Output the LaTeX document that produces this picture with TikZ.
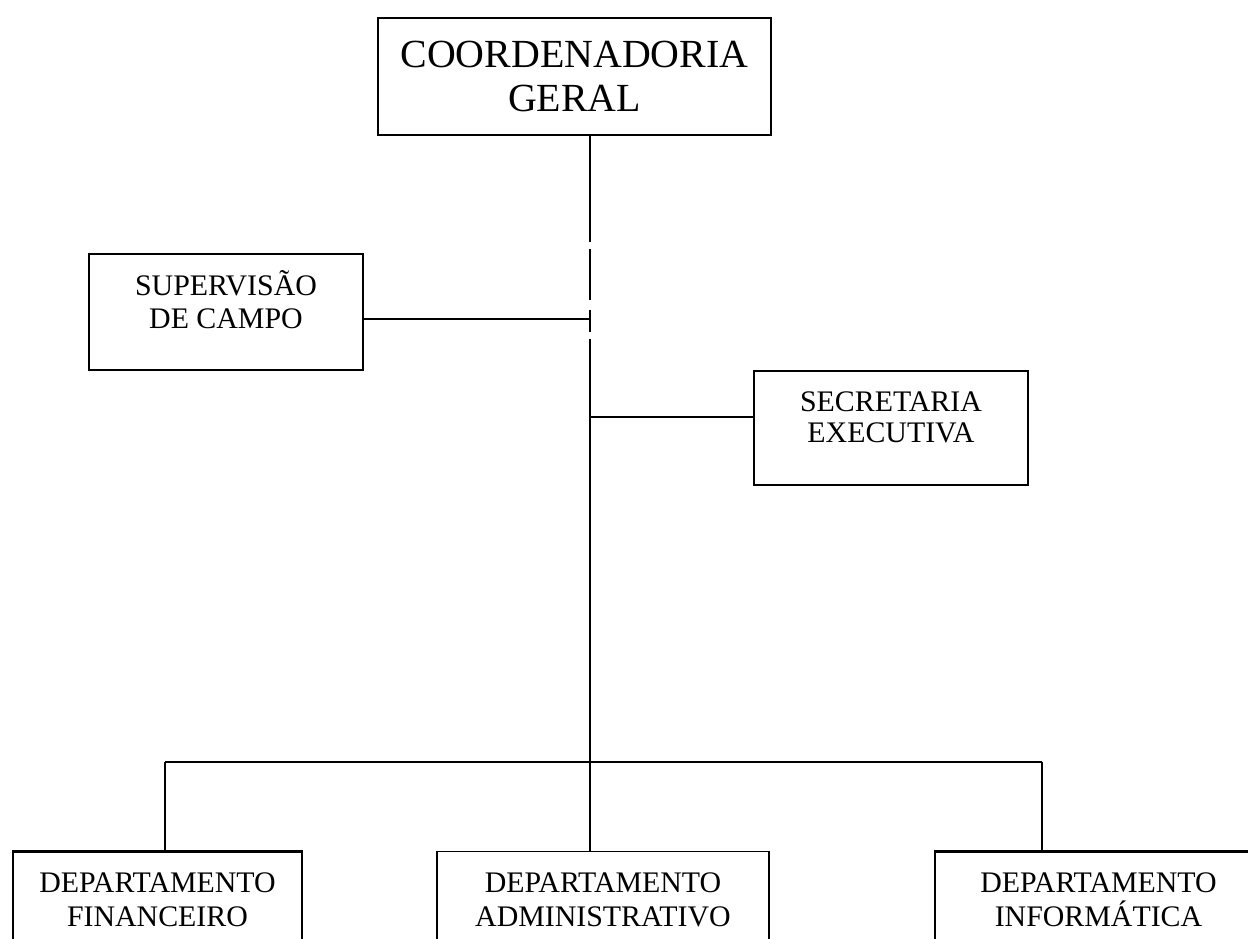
\documentclass[tikz,border=0pt]{standalone}
\usepackage{fontspec}
\setmainfont{Liberation Serif}
\begin{document}
\begin{tikzpicture}[x=0.02cm,y=-0.02cm,
  box/.style={draw, line width=1.3pt, align=center, inner sep=0pt,
    font=\fontsize{17}{19.5}\selectfont},
  bigbox/.style={box, font=\fontsize{22.7}{25.6}\selectfont},
  link/.style={line width=0.9pt},
  heavylink/.style={line width=1.5pt}]
\useasboundingbox (0,0) rectangle (1248,939);
\fill[white] (0,0) rectangle (1248,939);
\clip (0,0) rectangle (1248,939);

% boxes
\node[bigbox, minimum width=7.86cm, minimum height=2.34cm] (coord) at (574.5,76.5)
  {COORDENADORIA\\GERAL};
\node[box, minimum width=5.48cm, minimum height=2.32cm] (sup) at (226,312)
  {\raisebox{0.14cm}[\height][\depth]{\begin{tabular}{@{}c@{}}SUPERVISÃO\\[-0.1ex]DE CAMPO\end{tabular}}};
\node[box, minimum width=5.48cm, minimum height=2.28cm] (sec) at (891,428)
  {\raisebox{0.16cm}[\height][\depth]{\begin{tabular}{@{}c@{}}SECRETARIA\\[-0.2ex]EXECUTIVA\end{tabular}}};
\node[box, minimum width=5.78cm, minimum height=1.94cm] (fin) at (157.5,900)
  {DEPARTAMENTO\\FINANCEIRO};
\node[box, line width=0.9pt, minimum width=6.64cm, minimum height=1.94cm] (adm) at (603,900)
  {DEPARTAMENTO\\ADMINISTRATIVO};
\node[box, minimum width=6.54cm, minimum height=1.94cm] (inf) at (1098.5,900)
  {DEPARTAMENTO\\INFORMÁTICA};

% junction coordinates
\coordinate (trunk) at (590,300);
\coordinate (jsup) at (590,319);
\coordinate (jsec) at (590,417);
\coordinate (busl) at (165,762);
\coordinate (busr) at (1042,762);

% connectors
\draw[heavylink, dash pattern=on 60pt off 4.5pt on 28.5pt off 5.7pt on 12.5pt off 4.5pt on 47pt]
  (coord.south -| trunk) -- (jsec);
\draw[link] (jsec) -- (adm.north -| trunk);
\draw[link] (jsup) -- (jsup -| sup.east);
\draw[heavylink] (jsec) -- (jsec -| sec.west);
\draw[link] (busl) -- (busr);
\draw[heavylink] (busl) -- (busl |- fin.north);
\draw[link] (busr) -- (busr |- inf.north);
\end{tikzpicture}
\end{document}
